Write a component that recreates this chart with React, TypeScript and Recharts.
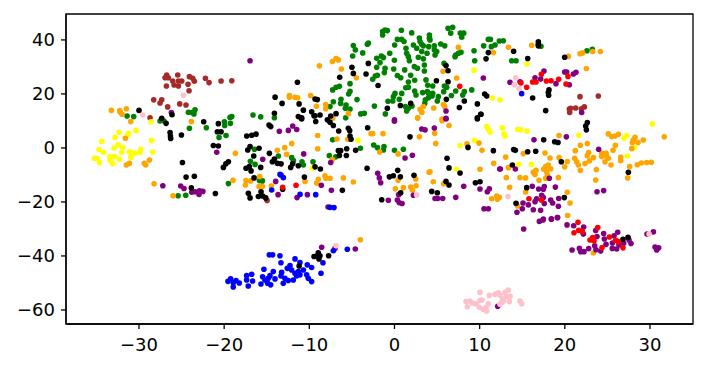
import React from 'react';
import { ScatterChart, Scatter, XAxis, YAxis, ReferenceArea } from 'recharts';

const xTicks = [-30, -20, -10, 0, 10, 20, 30];
const yTicks = [-60, -40, -20, 0, 20, 40];

const brown = [[-26.75,27],[-26.94,26],[-26.55,26],[-25.45,27],[-24.08,26.4],[-23.69,25.8],[-23.5,24.7],[-26.04,24.8],[-25.88,23.3],[-25.37,22.95],[-25.37,24.8],[-24.98,24.8],[-24.24,23.6],[-26.78,22.95],[-24.12,21.2],[-22.2,25.8],[-21.77,24.2],[-20.36,24.8],[-19.1,24.9],[-28.27,17.8],[-27.33,17.8],[-27.53,16.65],[-26.63,15.2],[-25.22,16.3],[-24.48,15.9],[-28.7,11.2],[21.78,19],[23.93,19.25],[20.53,14.4],[20.69,14.7],[21.27,14.8],[21.94,14.5],[22.29,15.2],[20.57,13.1],[-14.96,-19.5]];

const green = [[-31.4,11.8],[-30.62,11.6],[-24.2,13.2],[-23.81,13.1],[-23.42,14.1],[-23.54,12.6],[-19.1,11.6],[-19.31,11.3],[-16.61,12.2],[-15.71,11.5],[-14.1,11.2],[-27.53,10],[-27.06,10],[-24.08,7.3],[-22.09,7.5],[-19.97,9.7],[-19.94,8.3],[-19.27,9.1],[-20.6,3.9],[-19.78,4.6],[-16.45,-0.5],[-16.92,-4.95],[-16.37,-6.1],[-13.63,-3],[-15.86,-12.1],[-15.51,-12.2],[-19.5,-13.2],[-25.41,-17.7],[-24.51,-17.5],[-3.97,12.6],[-3.54,12.8],[-5.73,11.2],[-1.07,12.6],[1.43,13.7],[-7.26,3],[-4,-0.1],[-2.44,1.1],[-2,0.1],[-1.23,0.5],[-1.3,-0.75],[0,-0.9],[1.04,-0.5],[-7.65,-2.85],[-6.9,-3.3],[-12.07,-3.6],[-11.87,-4.7],[-10.86,-5.1],[-10.7,-6.3],[-9.57,-5.1],[-1.39,41.85],[-1.39,43.08],[-1.11,43.7],[-0.84,43.45],[0.81,43.6],[2.02,42.6],[0.34,40.2],[0.02,38.1],[0.85,40.2],[1.12,39.4],[2.92,40.7],[4.1,41.85],[4.1,40.6],[4.17,40],[3,39.4],[3.2,38.4],[3.39,37.8],[2.22,38.1],[2.61,36.9],[4.02,37.5],[4.68,37.8],[5.43,38.5],[5.9,37.8],[4.68,36.3],[4.96,35.7],[3.2,35.7],[3.82,35.05],[4.76,34.4],[1.35,36.9],[1.43,35.05],[1.63,33.8],[1.75,32.3],[2.8,33.6],[3.39,33],[3.51,30.7],[-0.01,32.5],[-0.56,35.05],[-1.54,34.07],[-2.09,33.2],[-1.3,33.45],[-1.7,31.6],[-1.11,29.5],[-2.09,29.9],[-1.19,27.9],[-0.09,29.25],[1.2,28.9],[2.33,30.1],[2.69,29.5],[1.9,26.9],[3.51,28.5],[0.34,26.8],[0.73,26],[-2.01,26.9],[-2.25,26.65],[-2.56,25.4],[2.37,25.05],[1.63,24.4],[3.7,25.2],[-5.22,23.8],[-4.83,37.9],[-4.6,36.3],[-4.91,34.07],[-3.73,35.2],[-3.19,38.4],[-3.07,38.8],[1.63,22.5],[1.32,22.3],[0.06,20.2],[0.85,20.2],[-0.13,19],[-0.21,17.4],[-0.76,17.3],[0.57,18],[2.37,21.1],[2.53,19.6],[3.9,23.2],[3.86,20.85],[4.49,22.95],[3.31,20.5],[4.49,20.2],[4.02,20.2],[3.98,18.6],[4.41,19.25],[3.63,17.8],[3.55,16.5],[5.15,19],[5.03,17.4],[5.86,22.95],[6.13,22.5],[5.78,20.85],[6.68,19.4],[7.19,21.1],[8.2,20.85],[8.01,19.6],[9.07,21.5],[5.82,31.3],[7.19,34.4],[7.5,35.05],[7.81,35.4],[7.11,33.8],[9.42,32.3],[9.34,36],[10.47,37.8],[11.02,40.2],[11.26,40.2],[11.37,37.5],[11.8,38.1],[12.31,39.6],[6.29,44.3],[6.83,44.7],[6.6,42.5],[7.73,42.5],[8.13,42.5],[7.89,41],[-7.26,21.5],[-6.86,22.5],[-6.47,22.8],[-5.38,20],[-5.22,21],[-6.28,18],[-6.32,16.5],[-7.18,17.1],[-7.57,15.3],[-5.69,15.9],[-5.77,14.7],[-5.22,14.4],[-4.4,17.9],[-2.36,15.5],[1.28,15.3],[1.63,14.7],[2.06,15.5],[12.78,39.7],[13.76,32.3],[14.27,32.3],[17.2,37.65],[22.6,36],[23.23,36.5]];

const orange = [[-33.24,13.9],[-32.26,13.8],[-32.2,13.2],[-31.99,12.45],[-31.48,14.5],[-23.85,9.75],[-30.97,9.75],[-31.6,3.6],[-28.78,-4.5],[-29.37,-5.7],[-29.21,-6.3],[-31.13,-5.7],[-31.48,-6.3],[-28.23,-13.3],[-26,-17.7],[-18.68,-2],[-18.96,-12],[-17.43,-12.1],[-16.88,-12.2],[-17.51,-13.7],[-15.83,-10.6],[-15.9,-14.3],[-15.51,-14.3],[-14.46,-14.1],[-13.75,-0.9],[-8.82,30.4],[-7.29,32],[-6.86,33.1],[-6.59,32.6],[-6.24,29.25],[-4.48,26],[-12.34,19.4],[-12.34,18.8],[-11.68,18.75],[-11.37,18.6],[-9.84,19.4],[-9.17,15.4],[-8.08,16.1],[-8.08,14.5],[-5.42,12.7],[-7.26,11],[3.39,15.3],[3,14.3],[3.2,13.3],[4.6,14.8],[5.74,16.1],[5.9,15.3],[2.72,11.2],[5.58,10.7],[5.7,28.4],[7.3,25.9],[7.5,37.3],[11.61,35.3],[13.37,37.3],[16.11,38],[20.41,33.9],[21.78,34.9],[22.09,35.2],[23.27,35.7],[24.17,35.7],[22.53,29.4],[-9.02,4.6],[-6.75,3.3],[-5.49,3.2],[-2.75,5.3],[-2.56,5.3],[-1.35,5.3],[-12.07,1.6],[-12.89,0.1],[-9.02,-0.3],[-12.66,-2.4],[-1.74,-1.5],[0.42,-2.2],[-7.3,-4.3],[-8.16,-10.3],[-8.04,-11.2],[-7.57,-11.2],[-6,-11.1],[-4.83,-12.6],[-8.94,-11.6],[-9.13,-13],[-10.5,-12.4],[0.1,-15.1],[1.04,-14.7],[1.9,-14.5],[2.53,-14],[2.1,-15.7],[2.49,-11.5],[0.42,-12],[4.06,-9],[4.17,-8.8],[4.56,-12.5],[5.78,-13.3],[10.04,-7.9],[2.72,11.1],[3.2,13.1],[5.58,10.1],[6.4,8.3],[4.72,5.4],[2.92,4.1],[4.84,1.6],[8.52,1.5],[9.93,1.8],[10.28,-0.9],[11.65,-5.7],[11.41,-18.8],[12,-17.8],[12.08,-19],[13.05,-3.4],[13.37,-7.3],[15.13,-2.1],[17.67,-1.9],[18.26,-3.7],[19.32,4.6],[19.32,-3.6],[20.29,-5],[19.98,-7],[21.82,1],[22.64,1.6],[21.23,-1],[21.16,-3.8],[21.39,-5.1],[21.59,-6.3],[21.82,-8.3],[22.37,-5.8],[22.88,-4.8],[23.35,-3.6],[22.64,-2.85],[22.8,-1.7],[23.7,-8],[23.62,-11.9],[24.33,-2],[24.84,-2],[24.33,-3.2],[24.91,-3.2],[25.11,-3.8],[24.72,-5.1],[25.42,-6.3],[25.66,-0.9],[25.93,1],[25.11,5.2],[25.5,4.2],[25.89,4.4],[26.28,5.05],[26.56,-3.5],[26.56,-4.7],[27.61,-6.9],[27.38,-11.1],[27.85,-0.25],[27.93,2],[28.04,2.95],[28.24,3.9],[28.59,2],[29.22,2.95],[28.51,-6.2],[28.98,-5.6],[29.61,-5.4],[30.16,-5.3],[31.68,4.1],[18.06,-6.3],[17.75,-6.9],[18.34,-7.7],[17.52,-7.9],[16.62,-8.3],[16.3,-9],[16.5,-9.8],[17.87,-8.8],[17.95,-10],[17.75,-11.25],[19.24,-11],[16.97,-12],[14.74,-11],[15.4,-11.1],[13.13,-11],[13.52,-14.6],[15.4,-16.3],[20.29,-16.4],[20.61,-20.4],[20.33,-25],[12.31,-18.3],[14.46,-21.5],[23.35,-38.9],[-4.01,-34]];

const yellow = [[-32.34,5.8],[-31.25,5.4],[-30.35,6.5],[-32.81,3.9],[-34.38,2.5],[-28.51,2.8],[-32.46,1.2],[-32.93,0],[-31.91,0.1],[-34.69,-0.6],[-34.18,-1.6],[-32.03,-1.6],[-31.13,-1.4],[-30.97,-1.7],[-30.46,-1.9],[-29.88,-1.7],[-29.8,-0.5],[-28.39,-1.5],[-33.4,-3.2],[-32.89,-3.2],[-32.3,-4.2],[-30.97,-3.5],[-35.24,-3.8],[-34.96,-3.8],[-34.65,-5.4],[-33.4,-4.5],[-33.09,-5.8],[-28.59,9.7],[-31.32,4.8],[9.34,28.8],[11.49,18.5],[12.39,17.8],[15.56,31.1],[-4.28,2.8],[-9.64,-7.5],[10.83,7.9],[11.02,6.9],[11.22,5.9],[9.42,2.8],[7.7,0.9],[7.26,-7.9],[12.66,7.5],[12.86,5.2],[12.98,4.4],[14.46,6.8],[14.82,6.7],[15.56,6.3],[21.63,4.7],[30.27,8.9],[26.95,3.6],[27.26,4.6],[28.16,0.1],[27.34,-3],[14.58,-6.1],[16.07,-6.1]];

const purple = [[-16.96,32.3],[-26.2,13.1],[10.43,25.9],[6.05,13.7],[6.05,11],[0,10.4],[13.56,24.3],[14.74,24.5],[17.55,28.5],[16.5,26],[17.16,25.5],[19.98,28.1],[20.22,28.1],[21,27.4],[21.31,28],[18.96,23.8],[20.53,23.4],[21.98,13.1],[-20.87,-1.6],[-15.47,-4.2],[-13.95,-12.4],[-13.67,-17.3],[-13.52,6.2],[-27.2,-14],[-25.1,-14.1],[-24.71,-15],[-23.81,-16.4],[-23.42,-16.2],[-22.95,-17.2],[-22.9,-15.9],[-22.5,-16.1],[-12.46,6.5],[-11.95,8.1],[-11.48,6.8],[-10.66,-2.2],[-7.49,-5.4],[-8.59,-13.8],[-7.41,-15.7],[-10.23,-17.3],[-11.44,-18.4],[-7.8,-21.9],[-0.01,9.9],[2.1,-2.7],[1.24,-3.7],[-1.97,-9.4],[-1.78,-11.1],[-1.62,-12.9],[0.49,-17.3],[-0.72,-19.4],[0.34,-19.3],[0.57,-20.3],[0.89,-20.6],[2.22,-17.5],[3.2,7],[3.59,6.7],[4.68,7.4],[6.05,10.7],[4.76,-18.7],[5.07,-18.7],[5.66,-18.7],[7.19,-18.3],[8.13,-14.2],[10.04,-15.2],[11.14,-15.1],[10.9,-16.2],[10.51,-22.5],[11.02,-22.5],[12.35,-7.8],[16.38,3],[20.18,4.1],[23.97,-0.5],[12.43,-7.8],[14.19,-7.8],[18.18,-11.2],[23.78,-16.2],[24.56,-15.8],[16.18,-14.2],[16.93,-15.2],[17.59,-14.3],[17.48,-15.3],[18.89,-14.5],[19.28,-18.7],[17.28,-17.5],[17.48,-18.4],[16.69,-18.8],[18.34,-19.3],[18.57,-20.4],[15.09,-20.4],[15.72,-21.1],[17.59,-20.6],[19.24,-21.6],[15.01,-22.5],[16.3,-22.9],[17.16,-23.1],[14.38,-23.8],[17.48,-26.3],[18.42,-26.2],[19.16,-25.8],[16.5,-19.9],[15.17,-30],[17.01,-27.2],[17.44,-26.7],[18.42,-26.4],[19.12,-25.8],[20.26,-28.5],[21.04,-28.8],[22.21,-29.3],[22.18,-31.9],[23.62,-30.6],[23.78,-32.8],[24.56,-31.7],[24.64,-33.7],[24.84,-35.7],[25.58,-35.2],[25.78,-32.5],[26.21,-31.2],[25.58,-37.2],[26.09,-37.4],[26.36,-35.9],[26.91,-35.3],[27.54,-34.1],[27.77,-35.4],[23.51,-36.2],[23.66,-37.7],[24.21,-38.2],[22.8,-37.3],[21.71,-37.2],[21.86,-38.4],[22.25,-38.4],[20.85,-37.8],[29.65,-31.9],[30.4,-31.1],[30.59,-36.7],[30.79,-37.8],[31.02,-37],[12.12,-58.6],[-8.55,-36.8],[-6.99,-37.2],[-4.6,-37.4]];

const black = [[-8.95,-38.8],[-9.14,-40],[-9.45,-40.2],[-8.75,-39.9],[-8.87,-41.1],[-7.73,-39.9],[-11.2,-43.7],[26.83,-33.8],[27.42,-33.1],[-30,13.9],[-14.02,18.8],[-14.1,12.8],[-26.12,12.3],[-27.33,11],[-26.82,9.1],[-26.35,5.7],[-26.31,4.4],[-26.28,3.5],[-25.02,4.8],[-22.4,9.7],[-20.68,9],[-20.8,6],[-20.36,6],[-21.27,0.9],[-20.68,0.7],[-24.9,-5.4],[-24.47,-10.8],[-23.5,-10.5],[-23.85,-14.8],[-21.03,-16.9],[-19.5,-5.1],[-19.8,-5.9],[-20.09,-7.2],[-17.35,4.4],[-16.76,4.7],[-16.26,5.1],[-16.96,0.5],[-17.23,-0.75],[-15.9,-0.1],[-16.53,-3],[-14.69,-2],[-14.1,-4.1],[-14.34,-5.1],[-13.75,-5.7],[-15.71,-7.2],[-17.43,-7.5],[-17.04,-6.9],[-16.84,-8.5],[-16.49,-11.1],[-17.16,-16.8],[-16.96,-18.5],[-15.67,-16.2],[-15.98,-18],[-15.47,-17.8],[-15.12,-18.5],[-14.73,8.5],[-14.53,7.9],[-11.4,24.3],[-13.2,16.5],[-11.2,16.3],[-9.33,18.1],[-9.06,17.9],[-10.7,14],[-9.72,13.4],[-8.74,12.2],[-9.33,11.9],[-11.29,11.6],[-10.9,11.2],[-7.49,11.8],[-6.86,12.7],[-6.43,26.2],[-5,29.9],[-4.83,27.6],[-3.34,27.4],[-3.07,31.3],[-1.93,23.1],[-0.84,14.7],[0.69,15.7],[1.9,16.5],[4.92,24.9],[6.29,24.5],[6.05,30.5],[6.29,28.6],[6.09,18],[7.62,15],[8.2,17.4],[9.73,16.3],[10.12,12.5],[9.73,11.2],[10.59,20],[10.83,19.2],[10.75,33],[11.02,35.3],[13.99,35.8],[15.64,33.1],[16.89,39.3],[16.89,38.4],[16.89,37.8],[19.98,33.6],[16.22,18.5],[18.14,21.5],[18.06,20.5],[18.1,19.5],[17.75,13.8],[-10.9,10.7],[-9.45,11.9],[-9.25,9.8],[-7.88,10.4],[-7.57,9.5],[-7.18,8.3],[-6.55,6.3],[-5.42,7.3],[-5.26,6.4],[-5.22,4.4],[-5.1,3.2],[-3.15,7.5],[-6.59,-1],[-6.32,-1],[-5.61,-0.3],[-4.56,-0.9],[-6.47,-2.8],[-5.65,-2.8],[-13.32,-5.9],[-11.95,-5.9],[-12.19,-7.2],[-11.29,-6.6],[-9.33,-7],[-8.7,-7.8],[-10.58,-10.8],[-13.13,-15.3],[-6.12,-15.7],[-3.22,-7.5],[1.82,4.1],[6.17,-3.8],[6.4,-7.4],[7.7,-9.3],[11.61,-1],[8.63,0.2],[9.73,10.7],[10.16,12.5],[0.38,-8.3],[-0.13,-10.3],[-0.6,-10.7],[0.69,-10.7],[2.29,-10.1],[0.73,-16.6],[-1.5,-19.2],[4.37,-16.1],[5.03,-16.6],[6.05,-12.4],[6.4,-13.7],[9.5,-12.9],[10.04,-12.5],[22.64,9.4],[22.45,8.1],[22.53,6.7],[17.52,3],[18.81,2.3],[19.2,2],[13.99,-0.6],[14.19,-0.9],[15.64,-1.4],[16.58,-1.2],[13.84,-6.3],[19.59,-5.1],[27.46,-9],[15.52,-14.7],[19.94,-18.4],[14.27,-20.5]];

const blue = [[-19.55,-49.4],[-19.24,-48.5],[-18.93,-49.9],[-18.61,-49.1],[-18.22,-50],[-18.93,-51.5],[-17.36,-47.3],[-16.77,-46.8],[-17.36,-48.9],[-16.66,-49.3],[-17.17,-51.1],[-15.33,-44.9],[-15.48,-47.7],[-14.62,-47.3],[-14.23,-45.8],[-15.21,-48.9],[-15.68,-50.4],[-14.89,-50.1],[-14.54,-50.7],[-14.03,-48.5],[-14.82,-48.3],[-14.7,-39.6],[-14.31,-39.6],[-13.45,-39.9],[-13.33,-42.5],[-13.25,-46.1],[-13.33,-47.4],[-12.86,-48.3],[-13.06,-50.1],[-12.47,-49.1],[-11.88,-48.9],[-11.49,-47.4],[-11.1,-47],[-12.27,-43.6],[-12.59,-44.6],[-12.08,-45.2],[-11.68,-41.1],[-11.1,-42.4],[-11.29,-45.8],[-11.68,-46.4],[-10.7,-45.2],[-10.24,-43.3],[-9.73,-44.3],[-10.31,-47],[-9.73,-49.5],[-10.12,-48.3],[-8.63,-46.4],[-8.4,-42.5],[-7.18,-38.1],[-5.54,-37.5],[14.93,20.1],[-13.44,-9.8],[-14.42,-15.6],[-13.32,-10],[-13.05,-11],[-11.09,-17.2],[-9.25,-17.3],[-7.57,-22],[-7.1,-22.1]];

const red = [[7.66,22.8],[17.24,27.3],[20.37,26.5],[16.22,24.4],[16.62,24.4],[17.83,24.8],[18.38,24.9],[19.28,25.4],[20.14,23.7],[15.52,22.5],[14.85,24.1],[15.79,-18.8],[17.24,-19.3],[-11.56,-13.8],[-13.13,-14.6],[21.55,-27.5],[21.08,-31.4],[21.63,-30.5],[22.06,-31],[23.86,-29.5],[25.23,-33],[23.27,-33.2],[22.96,-34.1],[23.43,-34.4],[25.97,-34.2],[26.28,-34.7],[24.37,-36.9],[26.83,-37]];

const pink = [[-24.79,19.5],[-29.56,12.2],[14.23,26],[14.07,23.4],[14.62,22],[2.6,-17.4],[13.33,-18],[-6.87,-36.2],[29.89,-31.85],[8.4,-56.9],[8.87,-56.7],[8.56,-58.8],[9.14,-57.4],[9.57,-57.7],[10.04,-56.5],[10.28,-56.3],[10.04,-53.5],[11.14,-54.6],[11.8,-54.2],[12.2,-53.6],[12.39,-54.5],[12.98,-53.5],[13.37,-52.6],[13.17,-55.1],[13.57,-54.9],[12.7,-55.9],[13.49,-56.9],[12.78,-56.7],[12.39,-57.9],[11.02,-57.7],[10.75,-59.1],[9.96,-59],[10.43,-59.8],[10.83,-60.4],[14.74,-56.7],[14.94,-57.7],[12.59,-57.2]];

const groups: [string, number[][]][] = [
  ['green', green], ['brown', brown], ['yellow', yellow], ['orange', orange],
  ['purple', purple], ['pink', pink], ['blue', blue], ['black', black], ['red', red],
];

const XMIN = -38.57, XMAX = 35.05, YMIN = -65.2, YMAX = 49.6;
const fmt = (v: number) => String(v).replace('-', '\u2212');
const tick = { fill: '#000', fontSize: 18, fontFamily: 'DejaVu Sans' };
const line = { stroke: '#000', strokeWidth: 1.3 };
const Dot = (p: any) => <circle cx={p.cx} cy={p.cy} r={2.8} fill={p.fill} />;

export default function App() {
  return (
    <div style={{ position: 'absolute', left: 0, top: 0 }}>
      <ScatterChart width={706} height={370} margin={{ top: 14, right: 13, bottom: 0, left: 0 }}>
        <XAxis type="number" dataKey="x" domain={[XMIN, XMAX]} ticks={xTicks} allowDataOverflow
          tickFormatter={fmt} tick={tick} axisLine={line} tickLine={line} tickSize={5} tickMargin={9} height={46} interval={0} />
        <YAxis type="number" dataKey="y" domain={[YMIN, YMAX]} ticks={yTicks} allowDataOverflow
          tickFormatter={fmt} tick={tick} axisLine={line} tickLine={line} tickSize={5} tickMargin={6} width={66} interval={0} />
        {groups.map(([c, pts]) => (
          <Scatter key={c} data={pts.map(([x, y]) => ({ x, y }))} fill={c} shape={Dot} isAnimationActive={false} />
        ))}
        <ReferenceArea x1={XMIN} x2={XMAX} y1={YMIN} y2={YMAX} fill="none" stroke="#000" strokeWidth={1.3} fillOpacity={0} />
      </ScatterChart>
    </div>
  );
}
